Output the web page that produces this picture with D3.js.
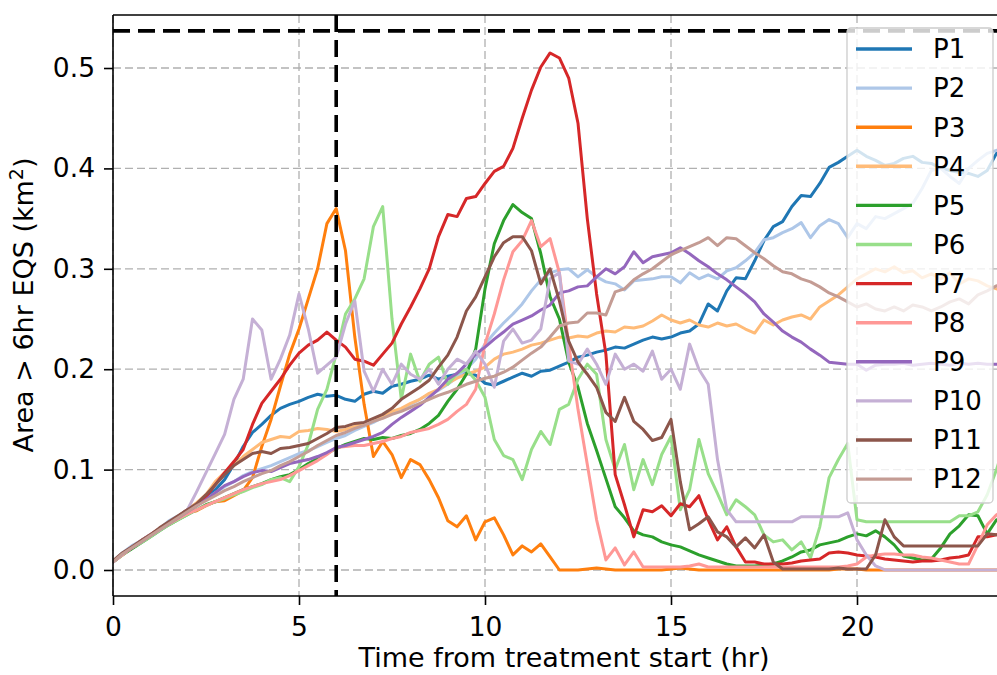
<!DOCTYPE html>
<html><head><meta charset="utf-8">
<script src="https://cdn.jsdelivr.net/npm/d3@7"></script>
<style>body{margin:0;background:#fff}svg{display:block}</style>
</head><body>
<svg id="chart" width="997" height="675"></svg>
<script>
// ---------- data ----------
const timeStep = 0.25; // hours between samples, first sample at t = 0
const seriesNames = ["P1","P2","P3","P4","P5","P6","P7","P8","P9","P10","P11","P12"];
const seriesColors = ["#1f77b4","#aec7e8","#ff7f0e","#ffbb78","#2ca02c","#98df8a","#d62728","#ff9896","#9467bd","#c5b0d5","#8c564b","#c49c94"];
const xTicks = [0,5,10,15,20];
const yTicks = [0.0,0.1,0.2,0.3,0.4,0.5];
const treatmentLine = 6;      // vertical dashed line (hr)
const thresholdLine = 0.537;  // horizontal dashed line (km2)

const P1 = [0.008,0.016,0.023,0.028, 0.034,0.041,0.046,0.053, 0.060,0.066,0.072,0.080, 0.090,0.105,0.123,0.137,
 0.145,0.154,0.161,0.165, 0.168,0.172,0.175,0.173, 0.174,0.170,0.168,0.175, 0.178,0.176,0.183,0.185,
 0.188,0.190,0.194,0.190, 0.193,0.195,0.196,0.194, 0.186,0.184,0.188,0.192, 0.196,0.193,0.198,0.199,
 0.203,0.207,0.212,0.214, 0.217,0.219,0.222,0.221, 0.225,0.229,0.232,0.230, 0.232,0.236,0.238,0.245,
 0.265,0.258,0.278,0.291, 0.290,0.308,0.328,0.342, 0.347,0.362,0.373,0.372, 0.385,0.401,0.406,0.412,
 0.418,0.412,0.408,0.403, 0.405,0.410,0.412,0.406, 0.405,0.400,0.398,0.396, 0.395,0.392,0.398,0.415, 0.415];
const P2 = [0.009,0.017,0.024,0.029, 0.035,0.041,0.049,0.054, 0.058,0.064,0.070,0.077, 0.083,0.088,0.094,0.098,
 0.101,0.104,0.108,0.112, 0.116,0.119,0.123,0.127, 0.131,0.134,0.139,0.143, 0.147,0.152,0.156,0.160,
 0.165,0.170,0.175,0.179, 0.185,0.192,0.200,0.210, 0.225,0.236,0.246,0.255, 0.265,0.278,0.289,0.296,
 0.299,0.300,0.292,0.299, 0.292,0.287,0.285,0.279, 0.288,0.289,0.290,0.292, 0.292,0.286,0.296,0.290,
 0.294,0.290,0.298,0.301, 0.308,0.316,0.329,0.331, 0.336,0.340,0.346,0.331, 0.343,0.349,0.345,0.331,
 0.345,0.340,0.352,0.350, 0.355,0.360,0.365,0.380, 0.398,0.400,0.392,0.385, 0.400,0.408,0.415,0.418, 0.418];
const P3 = [0.008,0.015,0.022,0.028, 0.034,0.040,0.046,0.052, 0.057,0.059,0.064,0.068, 0.069,0.074,0.079,0.092,
 0.123,0.150,0.183,0.215, 0.240,0.270,0.300,0.345, 0.360,0.318,0.232,0.165, 0.113,0.128,0.115,0.092,
 0.110,0.105,0.090,0.072, 0.049,0.043,0.054,0.030, 0.048,0.052,0.035,0.015, 0.024,0.018,0.026,0.013,
 0.000,0.000,0.000,0.001, 0.002,0.001,0.000,0.000, 0.000,0.000,0.000,0.000, 0.001,0.002,0.001,0.000,
 0.000,0.000,0.000,0.000, 0.000,0.000,0.000,0.000, 0.000,0.000,0.000,0.000, 0.000,0.000,0.001,0.001,
 0.001,0.000,0.000,0.000, 0.000,0.000,0.000,0.000, 0.000,0.000,0.000,0.000, 0.000,0.000,0.000,0.000, 0.000];
const P4 = [0.009,0.016,0.022,0.029, 0.034,0.040,0.047,0.053, 0.060,0.067,0.075,0.088, 0.097,0.104,0.113,0.120,
 0.127,0.130,0.133,0.132, 0.138,0.139,0.141,0.140, 0.138,0.140,0.143,0.146, 0.150,0.152,0.158,0.161,
 0.166,0.170,0.176,0.180, 0.186,0.191,0.195,0.198, 0.202,0.210,0.215,0.217, 0.220,0.224,0.226,0.229,
 0.232,0.231,0.233,0.232, 0.236,0.238,0.237,0.242, 0.241,0.243,0.248,0.254, 0.249,0.246,0.249,0.244,
 0.242,0.246,0.243,0.245, 0.240,0.236,0.249,0.244, 0.249,0.252,0.254,0.250, 0.262,0.268,0.274,0.282,
 0.290,0.295,0.300,0.297, 0.302,0.296,0.298,0.291, 0.295,0.290,0.296,0.285, 0.290,0.288,0.283,0.280, 0.280];
const P5 = [0.008,0.015,0.021,0.027, 0.033,0.039,0.045,0.050, 0.055,0.060,0.065,0.068, 0.072,0.076,0.080,0.083,
 0.086,0.090,0.093,0.095, 0.100,0.106,0.111,0.116, 0.121,0.125,0.128,0.131, 0.130,0.132,0.131,0.134,
 0.136,0.140,0.146,0.154, 0.168,0.180,0.195,0.220, 0.280,0.325,0.348,0.364, 0.356,0.350,0.315,0.272,
 0.250,0.207,0.182,0.146, 0.119,0.091,0.063,0.052, 0.039,0.035,0.033,0.028, 0.025,0.023,0.019,0.015,
 0.012,0.009,0.006,0.004, 0.004,0.004,0.005,0.006, 0.009,0.013,0.018,0.020, 0.025,0.027,0.029,0.033,
 0.036,0.034,0.039,0.033, 0.025,0.014,0.012,0.010, 0.011,0.022,0.036,0.044, 0.055,0.054,0.036,0.050, 0.050];
const P6 = [0.008,0.015,0.022,0.027, 0.033,0.039,0.045,0.050, 0.055,0.060,0.064,0.068, 0.071,0.075,0.078,0.082,
 0.085,0.090,0.092,0.088, 0.103,0.125,0.160,0.180, 0.215,0.255,0.270,0.290, 0.342,0.362,0.250,0.170,
 0.215,0.188,0.205,0.212, 0.185,0.196,0.200,0.189, 0.172,0.130,0.114,0.110, 0.090,0.120,0.138,0.125,
 0.160,0.165,0.190,0.205, 0.195,0.130,0.100,0.125, 0.080,0.110,0.085,0.115, 0.133,0.060,0.080,0.130,
 0.096,0.076,0.055,0.070, 0.063,0.055,0.035,0.028, 0.030,0.020,0.028,0.012, 0.043,0.092,0.110,0.126,
 0.050,0.048,0.048,0.048, 0.048,0.048,0.048,0.048, 0.048,0.048,0.048,0.054, 0.054,0.058,0.075,0.100, 0.130];
const P7 = [0.008,0.016,0.022,0.029, 0.035,0.041,0.047,0.053, 0.060,0.065,0.073,0.085, 0.097,0.108,0.120,0.145,
 0.166,0.178,0.190,0.204, 0.216,0.224,0.229,0.237, 0.229,0.222,0.210,0.208, 0.204,0.215,0.226,0.245,
 0.262,0.280,0.300,0.332, 0.354,0.352,0.370,0.372, 0.385,0.397,0.402,0.420, 0.450,0.478,0.501,0.515,
 0.510,0.490,0.445,0.350, 0.275,0.215,0.095,0.065, 0.033,0.060,0.058,0.064, 0.054,0.066,0.063,0.074,
 0.050,0.030,0.043,0.023, 0.008,0.008,0.006,0.006, 0.006,0.007,0.009,0.010, 0.011,0.017,0.018,0.017,
 0.015,0.014,0.013,0.011, 0.010,0.009,0.008,0.009, 0.009,0.010,0.012,0.013, 0.015,0.033,0.033,0.035, 0.035];
const P8 = [0.008,0.015,0.022,0.028, 0.034,0.040,0.046,0.051, 0.056,0.060,0.064,0.068, 0.072,0.076,0.080,0.083,
 0.086,0.088,0.090,0.094, 0.099,0.104,0.109,0.115, 0.122,0.123,0.124,0.124, 0.126,0.128,0.131,0.133,
 0.137,0.139,0.141,0.145, 0.150,0.158,0.165,0.180, 0.225,0.255,0.289,0.317, 0.328,0.348,0.322,0.330,
 0.296,0.225,0.160,0.105, 0.050,0.010,0.022,0.005, 0.018,0.003,0.003,0.003, 0.003,0.003,0.004,0.006,
 0.003,0.003,0.003,0.003, 0.003,0.003,0.003,0.003, 0.003,0.003,0.003,0.003, 0.003,0.003,0.003,0.004,
 0.006,0.013,0.015,0.016, 0.016,0.015,0.015,0.013, 0.012,0.010,0.008,0.006, 0.006,0.025,0.045,0.055, 0.060];
const P9 = [0.008,0.016,0.022,0.028, 0.034,0.040,0.046,0.052, 0.058,0.064,0.070,0.077, 0.084,0.088,0.093,0.097,
 0.099,0.098,0.102,0.106, 0.108,0.110,0.113,0.117, 0.122,0.124,0.127,0.130, 0.133,0.137,0.145,0.152,
 0.158,0.164,0.172,0.180, 0.190,0.196,0.205,0.215, 0.222,0.230,0.237,0.245, 0.249,0.253,0.259,0.264,
 0.276,0.278,0.282,0.283, 0.292,0.300,0.295,0.302, 0.317,0.306,0.312,0.314, 0.316,0.321,0.315,0.308,
 0.302,0.295,0.289,0.282, 0.275,0.267,0.255,0.247, 0.238,0.232,0.227,0.220, 0.214,0.207,0.206,0.205,
 0.205,0.199,0.204,0.205, 0.205,0.206,0.204,0.205, 0.206,0.205,0.204,0.206, 0.205,0.206,0.205,0.205, 0.205];
const P10 = [0.008,0.016,0.023,0.029, 0.035,0.040,0.047,0.053, 0.060,0.078,0.097,0.116, 0.135,0.170,0.190,0.250,
 0.239,0.190,0.210,0.234, 0.275,0.240,0.196,0.204, 0.212,0.245,0.268,0.198, 0.178,0.200,0.185,0.205,
 0.195,0.190,0.200,0.185, 0.200,0.210,0.205,0.218, 0.205,0.182,0.228,0.240, 0.226,0.229,0.240,0.290,
 0.296,0.208,0.205,0.220, 0.205,0.185,0.215,0.200, 0.205,0.198,0.218,0.190, 0.200,0.180,0.225,0.200,
 0.185,0.110,0.060,0.048, 0.048,0.048,0.048,0.048, 0.048,0.048,0.053,0.053, 0.053,0.053,0.053,0.057,
 0.030,0.015,0.004,0.000, 0.000,0.000,0.000,0.000, 0.000,0.000,0.000,0.000, 0.000,0.000,0.000,0.000, 0.000];
const P11 = [0.009,0.017,0.023,0.029, 0.035,0.042,0.048,0.054, 0.060,0.066,0.075,0.085, 0.095,0.104,0.110,0.116,
 0.118,0.116,0.121,0.122, 0.124,0.126,0.131,0.136, 0.142,0.143,0.146,0.147, 0.151,0.155,0.161,0.170,
 0.176,0.182,0.189,0.202, 0.214,0.232,0.258,0.272, 0.292,0.312,0.326,0.332, 0.332,0.318,0.285,0.300,
 0.268,0.228,0.207,0.195, 0.182,0.157,0.148,0.172, 0.148,0.140,0.129,0.132, 0.150,0.088,0.040,0.046,
 0.053,0.038,0.033,0.023, 0.032,0.022,0.035,0.008, 0.001,0.001,0.001,0.001, 0.001,0.001,0.002,0.001,
 0.001,0.001,0.015,0.050, 0.033,0.024,0.024,0.024, 0.024,0.024,0.024,0.024, 0.024,0.024,0.036,0.035, 0.035];
const P12 = [0.008,0.016,0.022,0.028, 0.034,0.040,0.046,0.052, 0.058,0.064,0.069,0.074, 0.079,0.083,0.088,0.092,
 0.096,0.099,0.104,0.108, 0.113,0.118,0.124,0.129, 0.134,0.137,0.141,0.144, 0.148,0.151,0.155,0.158,
 0.162,0.166,0.170,0.174, 0.177,0.181,0.185,0.188, 0.191,0.193,0.197,0.202, 0.209,0.216,0.222,0.232,
 0.243,0.246,0.247,0.256, 0.256,0.254,0.277,0.280, 0.289,0.295,0.300,0.307, 0.314,0.318,0.322,0.326,
 0.331,0.323,0.331,0.330, 0.323,0.316,0.310,0.303, 0.297,0.295,0.290,0.287, 0.282,0.276,0.272,0.267,
 0.262,0.265,0.260,0.258, 0.262,0.258,0.264,0.262, 0.258,0.262,0.267,0.270, 0.265,0.274,0.278,0.283, 0.283];
const seriesValues = [P1,P2,P3,P4,P5,P6,P7,P8,P9,P10,P11,P12];

// ---------- layout ----------
const FONT = "'DejaVu Sans', sans-serif";
const M = {left:113, top:15, bottom:596};
const svg = d3.select("#chart");
const x = d3.scaleLinear().domain([0,24]).range([M.left, M.left + 24*37.2]);
const y = d3.scaleLinear().domain([-0.0259, 0.5528]).range([M.bottom, M.top]);
const plotRight = x(24);

svg.append("defs").append("clipPath").attr("id","plotclip")
  .append("rect").attr("x",M.left).attr("y",M.top).attr("width",plotRight-M.left).attr("height",M.bottom-M.top);

// grid
const grid = svg.append("g").attr("stroke","#b0b0b0").attr("stroke-width",1.3).attr("stroke-dasharray","8,4");
grid.selectAll(".gx").data(xTicks).join("line")
  .attr("x1",d=>x(d)).attr("x2",d=>x(d)).attr("y1",M.top).attr("y2",M.bottom);
grid.selectAll(".gy").data(yTicks).join("line")
  .attr("x1",M.left).attr("x2",plotRight).attr("y1",d=>y(d)).attr("y2",d=>y(d));

// series
const line = d3.line().x((d,i)=>x(i*timeStep)).y(d=>y(d));
const lines = svg.append("g").attr("clip-path","url(#plotclip)");
seriesValues.forEach((vals,k)=>{
  lines.append("path").datum(vals).attr("d",line)
    .attr("fill","none").attr("stroke",seriesColors[k]).attr("stroke-width",3)
    .attr("stroke-linejoin","round").attr("stroke-linecap","square");
});

// reference lines
const refs = svg.append("g").attr("clip-path","url(#plotclip)")
  .attr("stroke","#000").attr("stroke-width",3.6).attr("stroke-dasharray","17,8");
refs.append("line").attr("x1",x(treatmentLine)).attr("x2",x(treatmentLine)).attr("y1",M.top).attr("y2",M.bottom);
refs.append("line").attr("x1",M.left).attr("x2",plotRight).attr("y1",y(thresholdLine)).attr("y2",y(thresholdLine));

// axes
const xAxis = svg.append("g").attr("transform",`translate(0,${M.bottom})`)
  .call(d3.axisBottom(x).tickValues(xTicks).tickFormat(d3.format("d")).tickSizeOuter(0).tickSize(9).tickPadding(12));
const yAxis = svg.append("g").attr("transform",`translate(${M.left},0)`)
  .call(d3.axisLeft(y).tickValues(yTicks).tickFormat(d3.format(".1f")).tickSizeOuter(0).tickSize(9).tickPadding(9));
[xAxis,yAxis].forEach(a=>{
  a.select(".domain").remove();
  a.selectAll(".tick line").attr("stroke","#000").attr("stroke-width",1.6);
  a.selectAll(".tick text").attr("font-family",FONT).attr("font-size",26.5).attr("fill","#000");
});
// spines
const sp = svg.append("g").attr("stroke","#000").attr("stroke-width",1.6).attr("fill","none");
sp.append("line").attr("x1",M.left).attr("x2",M.left).attr("y1",M.top).attr("y2",M.bottom);
sp.append("line").attr("x1",M.left).attr("x2",plotRight).attr("y1",M.bottom).attr("y2",M.bottom);
sp.append("line").attr("x1",M.left).attr("x2",plotRight).attr("y1",M.top).attr("y2",M.top);
sp.append("line").attr("x1",plotRight).attr("x2",plotRight).attr("y1",M.top).attr("y2",M.bottom);

// axis labels
svg.append("text").attr("x",564).attr("y",667).attr("text-anchor","middle")
  .attr("font-family",FONT).attr("font-size",27).text("Time from treatment start (hr)");
const yl = svg.append("text").attr("transform","translate(33,305) rotate(-90)").attr("text-anchor","middle")
  .attr("font-family",FONT).attr("font-size",27);
yl.append("tspan").text("Area > 6hr EQS (km");
yl.append("tspan").attr("dy",-10).attr("font-size",19).text("2");
yl.append("tspan").attr("dy",10).text(")");

// legend
const lg = svg.append("g");
lg.append("rect").attr("x",847).attr("y",28).attr("width",146).attr("height",475).attr("rx",4)
  .attr("fill","#fff").attr("fill-opacity",0.8).attr("stroke","#cccccc").attr("stroke-width",1.3);
seriesNames.forEach((name,k)=>{
  const yy = 49 + k*39.1;
  lg.append("line").attr("x1",856).attr("x2",912).attr("y1",yy).attr("y2",yy)
    .attr("stroke",seriesColors[k]).attr("stroke-width",3.4);
  lg.append("text").attr("x",933).attr("y",yy).attr("dy","0.36em")
    .attr("font-family",FONT).attr("font-size",26).attr("fill","#000").text(name);
});
</script>
</body></html>
